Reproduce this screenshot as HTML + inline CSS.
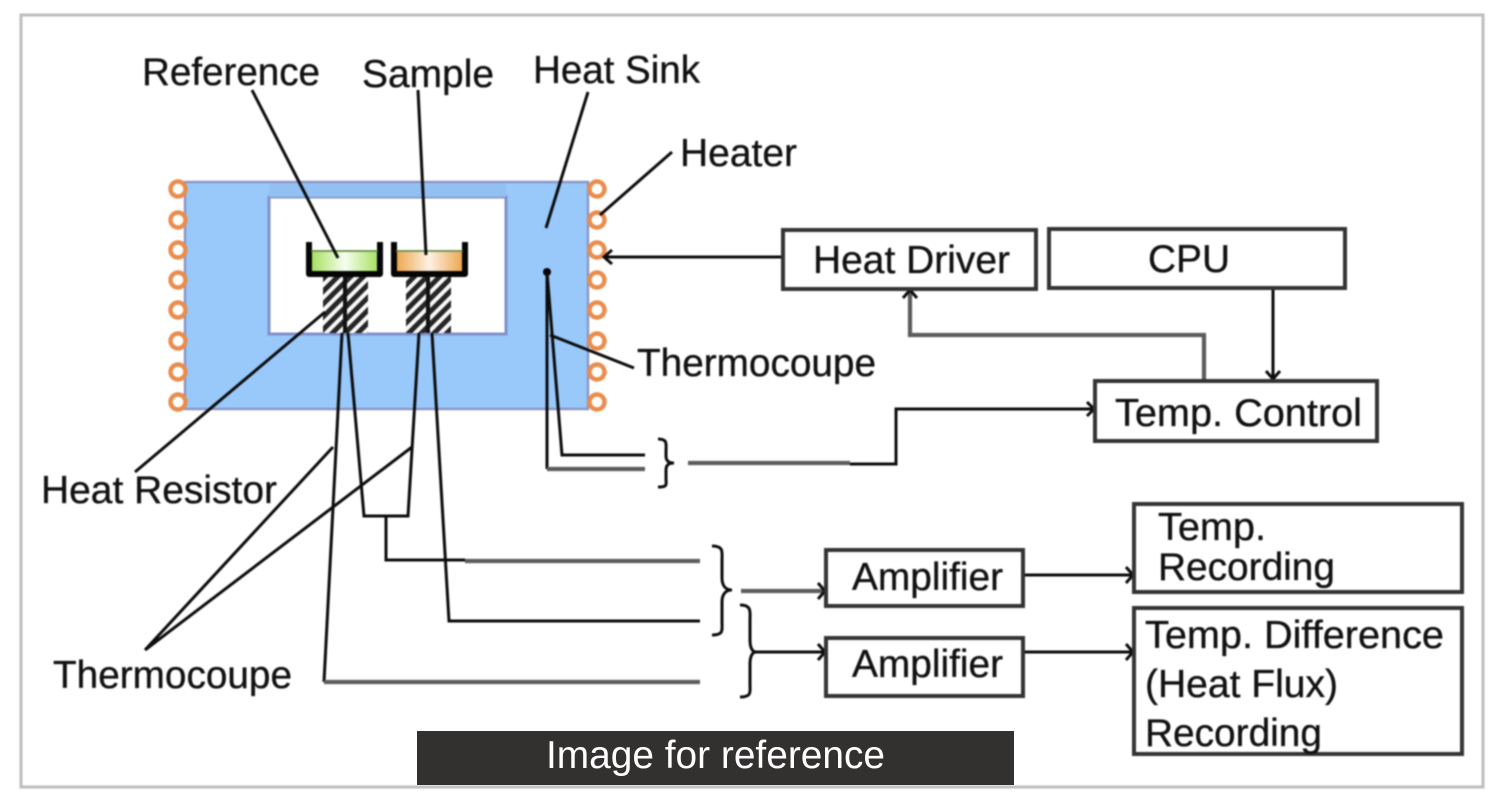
<!DOCTYPE html>
<html><head><meta charset="utf-8"><style>
html,body{margin:0;padding:0;background:#fff;width:1500px;height:800px;overflow:hidden}
svg{display:block}
.d{filter:blur(.9px)}
text{font-family:"Liberation Sans",sans-serif;font-size:39px;fill:#111;stroke:#111;stroke-width:.35}
.k{fill:none;stroke:#0c0c0c;stroke-width:3}
.g{fill:none;stroke:#5c5c5c;stroke-width:4.2}
.b{fill:#fff;stroke:#333;stroke-width:4}
.c{fill:none;stroke:#ea8c4c;stroke-width:4.4}
</style></head><body>
<svg width="1500" height="800" viewBox="0 0 1500 800" xmlns="http://www.w3.org/2000/svg">
<defs>
<pattern id="h" width="9" height="9" patternUnits="userSpaceOnUse" patternTransform="rotate(45)">
<rect width="9" height="9" fill="#f8f8f8"/><rect width="5" height="9" fill="#262626"/>
</pattern>
<linearGradient id="gr"><stop offset="0" stop-color="#a4e05c"/><stop offset=".5" stop-color="#f6fdf0"/><stop offset="1" stop-color="#a4e05c"/></linearGradient>
<linearGradient id="or"><stop offset="0" stop-color="#eda64c"/><stop offset=".5" stop-color="#fdf0e4"/><stop offset="1" stop-color="#eda64c"/></linearGradient>
</defs>
<g class="d">
<rect x="21" y="15" width="1462" height="772" fill="#fff" stroke="#bdbdbd" stroke-width="3"/>
<rect x="185" y="182" width="403" height="227" fill="#99c8fa" stroke="#8a94c4" stroke-width="2.4"/>
<rect x="269" y="197" width="237" height="137" fill="#fff" stroke="#7f90c8" stroke-width="3"/>
<rect x="269" y="184" width="237" height="13" fill="#93c0f2"/>
<g class="c">
<circle cx="178" cy="189" r="7.5"/><circle cx="178" cy="220" r="7.5"/><circle cx="178" cy="250" r="7.5"/><circle cx="178" cy="280" r="7.5"/><circle cx="178" cy="310" r="7.5"/><circle cx="178" cy="341" r="7.5"/><circle cx="178" cy="372" r="7.5"/><circle cx="178" cy="402" r="7.5"/>
<circle cx="597" cy="189" r="7.5"/><circle cx="597" cy="220" r="7.5"/><circle cx="597" cy="250" r="7.5"/><circle cx="597" cy="280" r="7.5"/><circle cx="597" cy="310" r="7.5"/><circle cx="597" cy="341" r="7.5"/><circle cx="597" cy="372" r="7.5"/><circle cx="597" cy="402" r="7.5"/>
</g>
<rect x="323" y="275" width="45" height="58" fill="url(#h)"/>
<rect x="406" y="275" width="45" height="58" fill="url(#h)"/>
<rect x="311" y="252" width="68" height="20" fill="url(#gr)"/>
<rect x="396" y="252" width="67" height="20" fill="url(#or)"/>
<path d="M309 242V274H380V242" fill="none" stroke="#050505" stroke-width="6" stroke-linejoin="round"/>
<path d="M394 242V274H465V242" fill="none" stroke="#050505" stroke-width="6" stroke-linejoin="round"/>
<path d="M311 251H378M396 251H463" stroke="#4c7a20" stroke-width="1.5"/>
<path d="M345 276V333M428 276V333" stroke="#111" stroke-width="4"/>

<path class="k" d="M252 90L338 258M418 90L426 255M588 92L546 228M672 152L600 215M550 335L634 368"/>
<path class="k" d="M325 312L135 472M145 650L333 447M145 650L412 447"/>
<circle cx="547" cy="272" r="4" fill="#000"/>
<path class="k" d="M342 333L324 682"/><path class="g" d="M324 682H700"/>
<path class="k" d="M348 333L364 516H408L419 333M386 516V560H465"/><path class="g" d="M465 561H700"/>
<path class="k" d="M432 333L449 621H700"/>
<path class="k" d="M547 272V469M547 272L562 455H645"/><path class="g" d="M547 469H645"/>

<path class="k" d="M658 439C668 439 666 444 666 452V456C666 462 670 463 674 463C670 463 666 464 666 470V478C666 485 668 487 658 487"/>
<path class="g" d="M688 463H850"/><path class="k" d="M850 464H896V409H1092"/>
<path class="k" d="M1087 402L1094 409L1087 416"/>
<path class="k" d="M712 546C724 546 722 552 722 560V578C722 586 726 590 732 590C726 590 722 594 722 602V622C722 630 724 635 712 635"/>
<path class="g" d="M741 591H824"/><path class="k" d="M818 583L825 591L818 599"/>
<path class="k" d="M740 605C752 605 750 612 750 620V640C750 647 752 652 756 652C752 652 750 657 750 664V684C750 692 752 697 740 697"/>
<path class="k" d="M754 652H824M818 644L825 652L818 660"/>
<path class="k" d="M783 257H604M612 250L604 257L612 264"/>
<path class="g" d="M1204 380V335H910V292"/><path class="k" d="M903 298L910 290L917 298"/>
<path class="k" d="M1273 289V379M1266 371L1273 379L1280 371"/>
<path class="k" d="M1023 575H1132M1126 567L1133 575L1126 583M1023 652H1132M1126 644L1133 652L1126 660"/>

<rect class="b" x="783" y="230" width="253" height="59"/>
<rect class="b" x="1049" y="229" width="296" height="59"/>
<rect class="b" x="1095" y="381" width="282" height="60"/>
<rect class="b" x="826" y="550" width="197" height="56"/>
<rect class="b" x="826" y="638" width="197" height="58"/>
<rect class="b" x="1134" y="504" width="328" height="88"/>
<rect class="b" x="1134" y="608" width="328" height="146"/>

<text x="142" y="85" textLength="178" lengthAdjust="spacingAndGlyphs">Reference</text>
<text x="362" y="87" textLength="132" lengthAdjust="spacingAndGlyphs">Sample</text>
<text x="533" y="83" textLength="167" lengthAdjust="spacingAndGlyphs">Heat Sink</text>
<text x="680" y="166" textLength="117" lengthAdjust="spacingAndGlyphs">Heater</text>
<text x="813" y="273" textLength="197" lengthAdjust="spacingAndGlyphs">Heat Driver</text>
<text x="1148" y="272" textLength="82" lengthAdjust="spacingAndGlyphs">CPU</text>
<text x="637" y="376" textLength="239" lengthAdjust="spacingAndGlyphs">Thermocoupe</text>
<text x="1115" y="426" textLength="247" lengthAdjust="spacingAndGlyphs">Temp. Control</text>
<text x="41" y="503" textLength="236" lengthAdjust="spacingAndGlyphs">Heat Resistor</text>
<text x="53" y="688" textLength="239" lengthAdjust="spacingAndGlyphs">Thermocoupe</text>
<text x="852" y="590" textLength="151" lengthAdjust="spacingAndGlyphs">Amplifier</text>
<text x="852" y="677" textLength="151" lengthAdjust="spacingAndGlyphs">Amplifier</text>
<text x="1158" y="540" textLength="108" lengthAdjust="spacingAndGlyphs">Temp.</text>
<text x="1158" y="580" textLength="177" lengthAdjust="spacingAndGlyphs">Recording</text>
<text x="1145" y="648" textLength="299" lengthAdjust="spacingAndGlyphs">Temp. Difference</text>
<text x="1145" y="697" textLength="193" lengthAdjust="spacingAndGlyphs">(Heat Flux)</text>
<text x="1145" y="746" textLength="177" lengthAdjust="spacingAndGlyphs">Recording</text>
</g>
<rect x="417" y="731" width="597" height="54" fill="#333030"/>
<text x="546" y="768" textLength="339" lengthAdjust="spacingAndGlyphs" style="fill:#fff;stroke:none;font-size:39px">Image for reference</text>
</svg>
</body></html>
